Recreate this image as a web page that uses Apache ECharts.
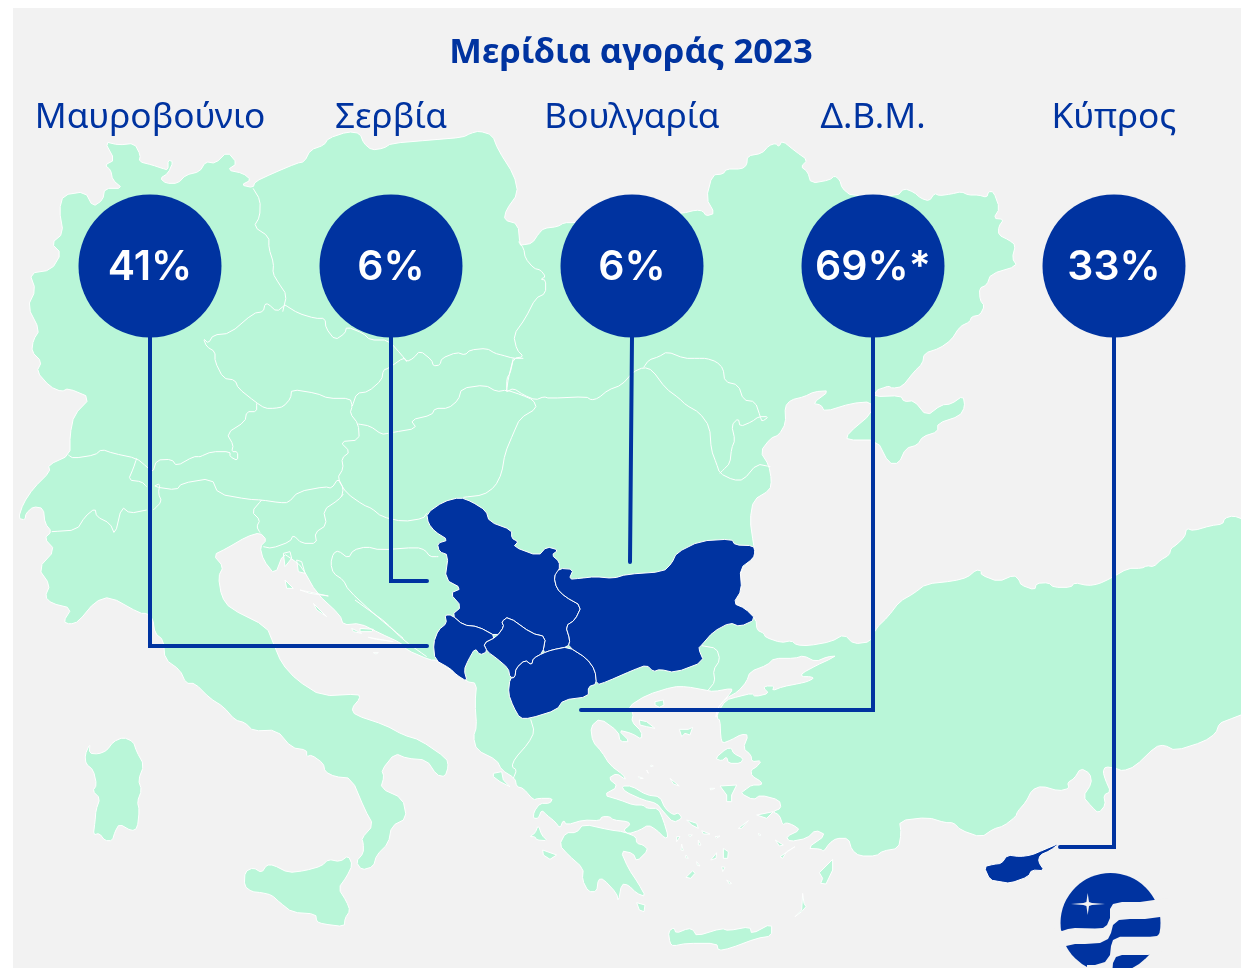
<!DOCTYPE html>
<html><head><meta charset="utf-8">
<script src="https://cdn.jsdelivr.net/npm/echarts@6/dist/echarts.min.js"></script>
<style>html,body{margin:0;padding:0;background:#fff}#c{width:1241px;height:968px}</style></head>
<body><div id="c"></div>
<script>
// ---- data ----
const titleText = 'Μερίδια αγοράς 2023';
const markets = ['Μαυροβούνιο','Σερβία','Βουλγαρία','Δ.Β.Μ.','Κύπρος'];
const shares = [41,6,6,69,33];
const notes = ['','','','*',''];
const highlighted = ['Σερβία','Κόσοβο','Μαυροβούνιο','Βόρεια Μακεδονία','Βουλγαρία','Κύπρος'];
// ---- colours ----
const NAVY='#0033A0', LAND='#B9F6D8', SEA='#F2F2F2';
const seg=(x0,y0,sx,p)=>{const o=[];for(let i=0;i<p.length;i+=2)o.push([x0+p[i]/sx,-(y0+p[i+1]/3)]);return o;};
const Z2=p=>seg(0,0,2.529,p), Z6=p=>seg(500,130,2.958,p), Z7=p=>seg(700,500,2.898,p),
      Z1=p=>seg(400,480,3,p), Z5=p=>seg(500,680,3,p), Z8=p=>seg(60,600,3,p), Z4=p=>seg(0,340,3,p), Z9=p=>seg(200,300,3,p), Z3=p=>seg(960,820,3,p);
// soften traced corners a little so outlines read as coastline, not as a polygon
const soften=(r,closed)=>{const o=[];const n=r.length;const last=closed?n:n-1;if(!closed)o.push(r[0]);
 for(let i=0;i<last;i++){const p=r[i],q=r[(i+1)%n];o.push([p[0]+.22*(q[0]-p[0]),p[1]+.22*(q[1]-p[1])],[p[0]+.78*(q[0]-p[0]),p[1]+.78*(q[1]-p[1])]);}
 if(!closed)o.push(r[n-1]);return o;};
const mainland=[
...Z2([100,990,70,920,90,870,75,820,130,810,155,760,130,730,160,700,150,630,160,585,215,575,235,620,260,600,265,565,310,565,285,540,280,510,265,495,290,480,265,425,300,435,340,430,355,465,352,485,385,495,410,505,425,510,425,480,438,485,425,520,405,535,420,550,450,550,470,525,505,515,520,485,545,490,575,455,600,490,575,510,615,520,635,540,610,555,640,563,645,545,690,520,750,490,770,485,785,450,820,435,830,415,880,395,910,400,920,430,940,450,970,445,990,430,1090,420,1170,412,1190,400,1212,393,1245,405,1260,450,1300,525,1310,580,1280,630,1275,660,1310,672,1315,735]),
...Z6([65,345,95,340,115,310,130,295,170,290,190,278,220,278,540,250,580,240,600,243,610,258,635,250,610,205,628,135,660,132,670,117,715,117,730,105,732,78,775,70,795,47,815,40,825,50,835,32,875,65,910,90,890,110,910,125,920,160,975,150,990,137,1005,150,1012,175,1040,198,1175,198,1195,175,1225,187,1245,205,1270,213,1285,190,1300,197,1335,192,1365,185,1385,195,1415,195,1440,202,1445,185,1460,185,1478,235,1460,265,1490,268,1475,290,1475,315,1505,330,1525,345,1515,385,1530,408,1452,432,1440,465,1418,475,1420,510,1433,528,1420,555,1395,560,1390,575,1360,590,1335,630,1300,655,1255,670,1250,700,1225,725,1190,770,1160,775,1150,768,1130,775,1115,780,1105,800,1185,797,1195,815,1225,812,1262,858,1305,825,1335,822,1370,797,1375,830,1360,858,1295,880,1295,905,1250,920,1235,945,1200,955,1180,1000,1150,1000,1115,930,1025,930,1030,910,1100,850,1098,815,1040,820,960,845,950,825,925,820,975,782,930,785,900,800,860,810,843,830,845,880,825,915,800,925,770,965,795,1005,803,1050]),
...Z1([1110,30,1060,60,1050,120,1060,190,1065,215,1060,235,1020,270,1025,330,1000,370,1035,385,1068,418]),
...Z7([165,390,185,400,190,412,235,428,265,422,280,435,315,437,380,425,418,403,445,432,495,425,510,385,545,350,578,305,620,280,655,252,735,243,775,232,800,210,815,212,815,225,865,245,910,225,925,240,930,255,970,270,975,250,1010,248,1025,262,1075,262,1085,248,1125,257,1155,252,1190,235,1240,205,1280,205,1295,197,1315,200,1335,180,1360,165,1365,145,1380,135,1405,110,1410,85,1430,92,1480,77,1515,72,1520,55,1545,47,1580,60,1580,640,1530,660,1505,670,1495,700,1460,725,1378,752,1345,735,1320,740,1260,800,1225,813,1205,805,1175,800,1168,815,1175,840,1190,875,1170,885,1175,915,1155,940,1135,920,1110,890,1135,850,1130,820,1103,805,1085,835,1065,848,1070,865,1040,873,990,858,962,870,945,905,920,935,915,950,880,978,850,987,815,1012,755,990,735,968,710,968,660,952,578,962,583,1000,575,1045,530,1053,510,1068,462,1068,440,1050,430,1015,395,1015,375,1030,358,1055,350,1047,310,1045,365,1005,335,990,310,1015,260,1025,250,1010,290,990,270,975,250,968,240,975,230,945,210,935,235,925,230,900,175,885,155,900,118,880,130,870,150,855,178,855,178,845,150,828,148,810,165,800,178,782,150,785,148,765,125,745,140,705,120,703,90,720,65,730,60,710,58,660]),
...Z5([650,115,660,75,695,35,695,25,640,35,615,30,560,20,520,20,440,45,385,80,400,100,395,125,425,155,425,178,395,160,355,150,390,185,360,185,355,155,300,115,272,140,278,185,305,215,330,255,370,285,378,300,350,280,325,295,355,320,310,345,360,360,400,375,430,375,440,385,475,385,490,420,505,470,495,475,470,450,445,435,420,450,385,462,370,450,390,435,385,425,340,420,330,410,305,410,300,422,250,420,200,435,190,420,180,445,165,425,140,405,125,390,115,415,100,415,102,395,120,370,150,370,158,355,115,355,100,360,70,325,50,320,45,295]),
...Z8([1325,510,1310,480,1250,450,1240,410,1250,380,1245,310,1250,250,1220,245,1130,180,1110,180,1040,150,1025,130,960,100,900,70,850,75,840,45]),
...Z4([950,760,905,680,880,660,850,640,825,705,790,660,780,620,800,600,780,578,740,590,680,625,640,645,670,680,655,710,665,770,690,805,800,860]),
...Z8([640,130,665,190,710,240,785,288,895,282,900,295,875,325,885,345,975,375,1030,405,1080,420,1160,475,1165,500,1155,530,1130,525,1100,480,1040,475,1005,460,965,510,972,530,962,565,1028,595,1040,655,995,678,985,730,950,765,940,800,905,810,888,785,910,760,910,730,905,715,940,675,915,630,875,535,825,530,795,515,790,490,755,465,740,470,740,450,695,443,650,390,580,393,555,368,525,360,490,320,450,295,405,250,378,250,360,210,315,178,310,120,285,100,278,55]),
...Z4([440,820,420,820,330,770,285,785,235,845,210,853,190,845,215,805,155,790,135,770,150,735,115,685,165,630,133,595,155,575,135,550,130,505,100,500,78,520,75,540,55,535,70,490,100,445,150,395,145,375,210,345,210,285,222,225,272,173,205,145,185,155,150,140,110,95,125,65,95,35,100,0])
];
const marmara=Z7([45,655,50,625,75,595,110,575,135,545,145,515,195,495,215,475,275,475,300,467,335,485,370,470,397,468,365,483,340,495,295,520,295,530,320,530,330,535,310,545,290,550,240,560,210,572,215,558,190,558,185,565,200,580,160,590,150,580,110,590,75,600,50,640]);
const islands=[
Z8([90,430,88,460,115,462,140,452,160,425,190,412,220,425,230,455,252,495,235,540,245,570,232,605,238,630,232,685,215,693,178,672,165,695,157,722,135,722,118,700,100,705,105,665,108,630,120,595,98,573,110,555,100,510,78,492,75,465]),
Z8([555,815,580,803,605,818,620,795,640,795,685,818,735,812,785,798,805,778,840,785,865,767,877,795,860,830,835,865,860,905,870,932,855,955,853,980,790,972,770,965,767,942,697,937,660,908,635,885,605,878,575,875,553,858]),
Z8([1300,520,1325,515,1330,540,1350,560,1320,545,1300,530]),
Z5([250,432,230,458,197,458,178,495,205,525,250,565,247,600,265,635,290,635,295,598,310,597,350,640,355,665,365,612,385,615,410,640,437,650,415,610,385,565,362,512,400,520,410,545,445,510,430,495,410,490,408,470,370,455,330,450]),
Z5([365,318,395,318,440,345,480,350,495,385,520,405,535,398,547,415,520,428,490,395,470,370,430,360,375,335]),
Z5([418,120,440,125,465,145,440,140,420,135]),Z5([465,65,490,60,492,75,478,82,465,75]),
Z5([538,148,565,148,578,142,570,165,555,160,545,170]),Z5([645,235,680,205,695,205,700,220,730,235,722,250,685,250,680,230,665,243]),
Z5([660,318,710,315,695,345,695,365,680,365,680,345]),Z5([770,405,820,395,800,415]),Z5([715,445,745,422,725,445]),
Z5([510,295,538,318,520,312]),Z5([415,290,430,295,420,296]),Z5([440,270,445,280,442,278]),Z5([453,255,460,258,452,260]),
Z5([560,420,590,430,595,445,575,435]),Z5([605,452,630,462,610,462]),Z5([670,505,685,515,683,535,670,535]),Z5([632,540,650,518,648,535]),
Z5([558,592,578,572,585,580,572,595]),Z5([530,470,540,470,530,485]),Z5([545,492,550,512,543,510]),Z5([558,525,565,535,556,533]),Z5([590,545,600,558,592,556]),
Z5([958,578,998,538,998,570,978,612,962,610,968,595]),Z5([908,640,912,670,918,680,905,695,885,710,905,690]),Z5([840,530,885,500,860,515,848,535]),
Z5([505,755,522,742,528,760,565,745,580,750,590,768,665,745,685,752,750,740,755,762,815,730,815,768,770,775,690,805,655,812,650,790,560,790,520,798,510,790]),
Z5([88,470,105,460,115,435,125,465,142,482,110,480,105,470]),Z5([128,510,170,525,150,538,130,525]),Z5([410,668,435,675,432,695,418,690]),
Z5([630,325,645,325,632,330]),Z5([665,560,675,562,668,575]),Z5([680,600,695,610,688,612]),Z5([595,480,603,495,595,495]),Z5([565,465,577,465,570,470]),Z5([645,470,660,468,650,474]),Z5([775,460,783,465,778,467]),Z5([826,480,850,495,838,498]),
Z4([850,640,870,635,875,655,855,680]),Z4([890,660,905,665,915,700,895,695]),Z4([855,720,880,745,860,745]),Z4([900,750,985,768,930,760]),Z4([940,790,980,830,950,810]),
Z8([900,85,940,88,935,95,900,95]),Z8([875,85,905,100,880,95]),Z8([925,112,1000,125,950,118]),Z8([940,158,955,158,948,162])
];
const serbia=Z1([80,100,130,65,180,52,215,65,258,92,268,125,335,150,335,175,355,185,340,200,415,228,440,200,475,210,455,225,478,245,478,270,462,290,470,325,495,350,545,378,525,420,497,438,510,480,505,500,455,510,428,520,437,470,395,460,325,410,305,425,312,440,290,470,235,440,190,435,155,405,185,380,150,340,185,325,135,298,145,225,118,215,112,190,145,180,105,155,85,130]);
const kosovo=Z1([290,470,312,440,305,425,325,410,395,460,437,470,428,520,400,535,395,555,375,540,348,565,345,592,330,592,325,565,290,535,262,515,250,490]);
const macedonia=Z1([345,592,348,565,375,540,395,555,400,535,428,520,455,510,505,500,560,535,585,570,590,612,565,620,565,650,490,660,470,690,390,715,360,715,340,680,325,640,330,595]);
const montenegro=Z1([155,405,190,435,235,440,290,470,250,490,262,515,240,525,225,505,205,540,192,570,202,605,170,585,150,565,105,540,100,490,115,450,140,430,135,405]);
const bulgaria=Z1([478,265,520,268,507,298,540,295,585,290,640,295,680,283,790,275,815,250,830,218,900,183,995,177,1005,195,1060,197,1065,215,1060,235,1020,265,1025,330,1000,370,1035,385,1068,418,1020,440,990,428,940,455,905,495,895,505,912,545,825,578,780,568,760,575,740,555,700,570,620,605,590,615,585,570,560,535,505,500,510,480,497,438,525,420,545,378,495,350,470,325,462,290]);
const cyprus=Z3([72,140,100,133,125,130,142,105,180,110,215,105,250,90,302,68,270,92,240,105,235,125,253,152,215,150,205,170,150,190,120,185,90,180]);
const borders=[
Z2([640,565,658,600,657,650,642,680,680,710,680,745,692,790,690,820,705,850,725,885,715,935]),
Z9([255,15,230,35,205,12,195,12,190,35,160,40,90,100,40,105,25,130,10,115,20,140,45,155,45,185,70,235,105,240,115,265,165,305,195,325,225,325,250,320,272,295,275,268,350,280,385,295,450,295,457,318,450,340,475,372,478,420,420,425,450,455,425,475,430,505,412,535,440,580,490,615,515,625,545,650,610,665,670,655,680,640]),
Z9([170,310,170,335,140,335,135,365,80,400,100,435,95,455,113,455,113,482,90,470,90,455,35,455,0,470]),
Z4([600,350,580,350,530,378,515,358,470,360,458,398,440,380,410,355,340,340,305,328,285,345,220,355,205,345]),
Z4([410,355,400,385,385,420,425,425,440,440]),
Z4([155,575,230,570,255,530,285,505,290,530,330,550,345,585,365,500,390,520,440,510]),
Z4([460,510,485,485,475,460,480,430,460,440,530,450,545,430,635,415,655,462,745,478,785,480,840,488,865,488,895,455,975,440,995,445,1015,415,1030,445,1025,470]),
Z4([785,480,755,515,780,540,770,560,780,578]),
Z4([790,620,815,625,870,605,880,585,905,610,950,610,945,578,980,555,970,510,1015,480,1030,462]),
Z4([1315,650,1290,650,1275,630,1250,622,1140,630,1100,620,1060,630,1045,655,1015,632,1000,640,992,670,1000,700,1030,720,1045,750,1120,820,1210,895]),
Z8([885,0,940,40,975,65,1030,120,1100,170]),
Z9([457,318,470,280,505,275,545,240,550,210,565,205,612,172,620,185]),
Z9([255,15,295,40,345,55,375,55,378,85,405,120,435,100,440,80,490,100,510,120,565,120,605,165,620,185,640,175,660,152,695,180,700,198,720,195,725,175,770,157,795,165,810,150,860,145,885,160,905,165,940,175,970,175]),
Z9([580,397,650,385,632,360,695,345,705,325,745,325,775,300,785,265,855,255,890,275,920,270,965,285,1000,300,1010,325,960,355,940,400,915,460,905,520,885,560,850,585,790,592]),
Z9([565,400,545,403,510,378,475,372]),
Z9([920,270,925,235,940,175]),
Z6([55,335,70,355,75,385,100,415,120,420,135,440,120,448,135,450,135,490,105,505,75,565,40,615,50,660,70,680,40,685,30,730,20,745,20,785]),
Z6([20,785,40,775,70,795,105,810,130,800,145,805,255,800,270,810,290,805,320,780,360,765,395,725,425,712,450,720,490,775,530,805,550,825,590,848,620,890,625,960,640,1000,650,1030,690,1050,720,1050,760,1002,800,1010]),
Z6([425,712,440,690,470,680,495,665,545,685,585,685,610,685,640,695,660,715,665,755,705,765,720,810,755,815,770,860,775,875,795,860,765,860,745,875,710,890,705,865,685,885,695,930,685,955,680,1000,660,1020,650,1030]),
Z1([905,497,950,505,960,540,940,570,945,605,925,630]),
Z5([92,118,103,155,85,190,45,235,35,260,50,270,40,295])
];
// ---- leader lines: circle bottom down to each market ----
const leaders=[
[[150,-337],[150,-646],[427,-646]],
[[391,-337],[391,-581],[427,-581]],
[[632,-337],[630,-562]],
[[873,-337],[873,-710],[581,-710]],
[[1114,-337],[1114,-847],[1060,-847]]
];
const feature=(name,ring)=>{const r=soften(ring,true);return {type:'Feature',properties:{name},geometry:{type:'Polygon',coordinates:[[...r,r[0]]]}};};
const landRings=[mainland,...islands].map(r=>{const s=r.length>6?soften(r,true):r;return [[...s,s[0]]];});
const geojson={type:'FeatureCollection',features:[
 {type:'Feature',properties:{name:'land'},geometry:{type:'MultiPolygon',coordinates:landRings}},
 feature('sea',marmara),
 feature('Σερβία',serbia),feature('Κόσοβο',kosovo),feature('Μαυροβούνιο',montenegro),
 feature('Βόρεια Μακεδονία',macedonia),feature('Βουλγαρία',bulgaria),feature('Κύπρος',cyprus)
]};
echarts.registerMap('region',geojson);
const chart=echarts.init(document.getElementById('c'),null,{renderer:'canvas'});
const FONT='"Noto Sans"';
// logo pieces: sea-coloured bands and star cut over a navy disc
const logoBand1=[[1055,928],[1062,931],[1068,929],[1075,928],[1095,928.5],[1103,928],[1107,925],[1110,918],[1110,909],[1113,904],[1122,902],[1140,902],[1154,900],[1168,898],[1168,915],[1160,917],[1145,919],[1130,919],[1119,920],[1113,925],[1111,933],[1108,939],[1100,943],[1085,944],[1075,944],[1066,946],[1052,948]];
const logoBand2=[[1168,932],[1160,933],[1157,936],[1150,936.7],[1120,936.7],[1113,940],[1111,946],[1110,955],[1105,962],[1095,965],[1087,965],[1087,975],[1112,975],[1113,963],[1116,957],[1122,955],[1148,955],[1170,950]];
const logoStar=[[1087.7,893],[1089,902],[1092,903],[1105,904],[1092,905],[1089,906],[1087.7,915],[1086.4,906],[1083.4,905],[1071,904],[1083.4,903],[1086.4,902]];
chart.setOption({
 animation:false,
 backgroundColor:'#fff',
 title:{text:titleText,left:626,textAlign:'center',top:31,textStyle:{color:NAVY,fontFamily:FONT,fontWeight:'bold',fontSize:34.6}},
 graphic:[
  {type:'rect',z:-100,silent:true,shape:{x:13,y:8,width:1228,height:960},style:{fill:SEA}},
  {type:'circle',z:100,silent:true,shape:{cx:1110.5,cy:923,r:50},style:{fill:NAVY}},
  {type:'polygon',z:101,silent:true,shape:{points:logoBand1},style:{fill:SEA}},
  {type:'polygon',z:101,silent:true,shape:{points:logoBand2},style:{fill:SEA}},
  {type:'polygon',z:101,silent:true,shape:{points:logoStar},style:{fill:SEA}}
 ],
 geo:{map:'region',left:0,top:0,width:1241,height:968,aspectScale:1,boundingCoords:[[0,0],[1241,-968]],roam:false,silent:true,z:1,
  label:{show:false},
  itemStyle:{areaColor:LAND,borderColor:'#fff',borderWidth:1},
  regions:[{name:'sea',itemStyle:{areaColor:SEA}},...highlighted.map(name=>({name,itemStyle:{areaColor:NAVY,borderColor:'#fff',borderWidth:1}}))]},
 grid:{left:29.5,width:1205,top:195,height:142,containLabel:false},
 xAxis:{type:'category',position:'top',data:markets,boundaryGap:true,axisLine:{show:false},axisTick:{show:false},splitLine:{show:false},
  axisLabel:{margin:60,color:NAVY,fontFamily:FONT,fontSize:35.2,interval:0,hideOverlap:false}},
 yAxis:{type:'category',data:['μερίδιο'],show:false},
 series:[
  {type:'lines',name:'borders',coordinateSystem:'geo',polyline:true,silent:true,z:2,data:borders.map(r=>({coords:soften(r,false)})),lineStyle:{color:'#fff',width:1,opacity:1}},
  {type:'lines',name:'leaders',coordinateSystem:'geo',polyline:true,silent:true,z:3,data:leaders.map(coords=>({coords})),lineStyle:{color:NAVY,width:4,opacity:1,cap:'round',join:'miter'}},
  {type:'scatter',name:'shares',z:4,silent:true,symbol:'circle',symbolSize:143,itemStyle:{color:NAVY,opacity:1},
   data:markets.map((m,i)=>({value:[m,'μερίδιο'],share:shares[i],note:notes[i],label:{formatter:shares[i]+'%'+notes[i]}})),
   label:{show:true,position:'inside',offset:[0,2],color:'#fff',fontFamily:'Inter, "Noto Sans"',fontWeight:600,fontSize:41}}
 ]
});
</script></body></html>
